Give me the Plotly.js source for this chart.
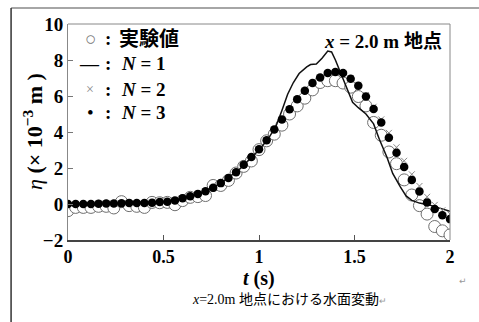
<!DOCTYPE html>
<html><head><meta charset="utf-8">
<script src="https://cdn.plot.ly/plotly-3.0.1.min.js"></script>
<style>html,body{margin:0;padding:0;background:#fff;}#c{width:479px;height:322px;}</style>
</head><body><div id="c"></div>
<script>
// time samples (s)
var tPts = [0,0.04,0.08,0.12,0.16,0.20,0.24,0.28,0.32,0.36,0.40,0.44,0.48,0.52,0.56,0.60,0.64,0.68,0.72,0.76,0.80,0.84,0.88,0.92,0.96,1.00,1.04,1.08,1.12,1.16,1.20,1.24,1.28,1.32,1.36,1.40,1.44,1.48,1.52,1.56,1.60,1.64,1.68,1.72,1.76,1.80,1.84,1.88,1.92,1.96,2.00];
// experimental values (x10^-3 m)
var etaExp = [-0.37,-0.19,-0.19,-0.19,-0.13,-0.13,-0.22,0.13,-0.09,-0.13,-0.19,0.09,0.07,0.09,-0.04,0.19,0.37,0.41,0.47,1.03,1.03,1.31,1.72,2.09,2.39,3.02,3.51,3.88,4.38,5.00,5.45,5.88,6.34,6.75,6.85,6.85,6.72,6.49,5.97,5.45,4.53,3.82,2.89,2.24,1.34,0.50,-0.09,-0.56,-1.25,-1.49,-1.72];
// N = 3
var etaN3 = [0,0,0,0,0.02,0.03,0.03,0.04,0.05,0.05,0.05,0.07,0.11,0.13,0.19,0.32,0.43,0.56,0.71,0.90,1.16,1.44,1.77,2.18,2.61,3.04,3.54,4.14,4.70,5.26,5.82,6.29,6.72,7.03,7.28,7.33,7.28,6.96,6.57,5.97,5.28,4.53,3.68,2.85,2.05,1.34,0.69,0.09,-0.28,-0.62,-0.84];
// N = 2
var etaN2 = [0,0,0,0,0.02,0.03,0.03,0.04,0.05,0.05,0.05,0.07,0.11,0.13,0.19,0.32,0.43,0.56,0.71,0.90,1.16,1.44,1.77,2.18,2.61,3.04,3.54,4.14,4.70,5.26,5.82,6.29,6.72,7.03,7.28,7.33,7.28,6.99,6.62,6.05,5.40,4.70,3.95,3.15,2.40,1.65,1.00,0.40,-0.05,-0.35,-0.56];
// N = 1 (line)
var tN1 = [0,0.2,0.4,0.5,0.6,0.7,0.8,0.9,1.0,1.05,1.09,1.12,1.15,1.18,1.21,1.25,1.27,1.30,1.33,1.36,1.38,1.40,1.42,1.44,1.47,1.49,1.52,1.56,1.60,1.63,1.67,1.70,1.74,1.77,1.80,1.84,1.89,1.94,2.0];
var etaN1 = [0,0.02,0.05,0.11,0.30,0.62,1.15,1.95,3.0,3.65,4.35,5.2,6.1,6.75,7.25,7.62,7.75,7.78,8.1,8.5,8.45,8.0,7.5,7.0,6.2,5.65,5.35,5.0,4.45,3.6,2.6,1.7,0.95,0.45,0.2,0.05,-0.05,-0.2,-0.4];
var xTicks = [0,0.5,1,1.5,2];
var xTickText = ['0','0.5','1','1.5','2'];
var yTicks = [-2,0,2,4,6,8,10];
// legend entries
var legSymbols = ['○','—','×','•'];
var legLabels = ['実験値','<i>N</i> = 1','<i>N</i> = 2','<i>N</i> = 3'];

var serif = 'Liberation Serif';
var traces = [
  {x:tPts, y:etaExp, mode:'markers', type:'scatter',
   marker:{symbol:'circle', size:12, color:'#ffffff', line:{color:'#6e6e6e', width:1}}},
  {x:tN1, y:etaN1, mode:'lines', type:'scatter', line:{color:'#111', width:1.5}},
  {x:tPts, y:etaN2, mode:'markers', type:'scatter',
   marker:{symbol:'x-thin-open', size:6, color:'#888', line:{color:'#888', width:1}}},
  {x:tPts, y:etaN3, mode:'markers', type:'scatter',
   marker:{symbol:'circle', size:8.5, color:'#000'}}
];
var legFont = {family: serif + ', Noto Sans CJK JP', size: 19, color:'#000'};
var annotations = [
  {xref:'paper', yref:'paper', x:-0.0916, y:0.5, xanchor:'center', yanchor:'middle', textangle:-90, showarrow:false,
   font:{family:serif, size:22, color:'#000'}, text:'<i>η</i> <b>(× 10<sup>−3</sup> m )</b>'},
  {xref:'paper', yref:'paper', x:0.5, y:-0.18, xanchor:'center', yanchor:'middle', showarrow:false,
   font:{family:serif, size:20, color:'#000'}, text:'<b><i>t</i> (s)</b>'},
  {xref:'paper', yref:'paper', x:0.985, y:0.92, xanchor:'right', yanchor:'middle', showarrow:false, font:legFont,
   text:'<b><i>x</i> = 2.0 m 地点</b>'},
  {xref:'paper', yref:'paper', x:0.58, y:-0.275, xanchor:'center', yanchor:'middle', showarrow:false,
   font:{family:'Liberation Serif, Noto Sans CJK JP', size:14, color:'#000'},
   text:'<i>x</i>=2.0m 地点における水面変動<span style="color:#999;font-size:9px">↵</span>'},
  {xref:'paper', yref:'paper', x:1.035, y:-0.19, xanchor:'center', yanchor:'middle', showarrow:false,
   font:{family:'DejaVu Sans', size:9, color:'#999'}, text:'↵'}
];
var legY = [0.931, 0.819, 0.699, 0.588];
var symX = [0.060, 0.056, 0.058, 0.059];
var symColor = ['#777', '#000', '#888', '#000'];
var symSize = [19, 19, 14, 19];
for (var i = 0; i < legLabels.length; i++) {
  annotations.push({xref:'paper', yref:'paper', x:symX[i], y:legY[i], xanchor:'center', yanchor:'middle', showarrow:false,
    font:{family:serif, size:symSize[i], color:symColor[i]}, text: i===1 ? '<b>'+legSymbols[i]+'</b>' : legSymbols[i]});
  annotations.push({xref:'paper', yref:'paper', x:0.105, y:legY[i], xanchor:'center', yanchor:'middle', showarrow:false,
    font:legFont, text:'<b>:</b>'});
  annotations.push({xref:'paper', yref:'paper', x: i===0 ? 0.128 : 0.134, y:legY[i], xanchor:'left', yanchor:'middle', showarrow:false,
    font:{family: serif + ', Noto Sans CJK JP', size: i===0 ? 20 : 19, color:'#000'}, text:'<b>'+legLabels[i]+'</b>'});
}
var layout = {
  width:479, height:322, showlegend:false,
  margin:{l:68, r:29, t:24, b:82},
  paper_bgcolor:'#fff', plot_bgcolor:'#fff',
  xaxis:{range:[0,2], tickvals:xTicks, ticktext:xTickText, ticks:'inside', ticklen:5, tickcolor:'#555',
    showline:true, linecolor:'#444', linewidth:1.5, mirror:false, showgrid:false, zeroline:false,
    tickfont:{family:serif, size:18, color:'#000', weight:'bold'}},
  yaxis:{range:[-2,10], tickvals:yTicks, ticks:'inside', ticklen:5, tickcolor:'#777',
    showline:true, linecolor:'#888', linewidth:1, mirror:false, showgrid:false, zeroline:false,
    tickfont:{family:serif, size:19, color:'#000', weight:'bold'}},
  shapes:[
    {type:'line', xref:'paper', yref:'paper', x0:0, x1:1, y0:1, y1:1, line:{color:'#888', width:1}},
    {type:'line', xref:'paper', yref:'paper', x0:1, x1:1, y0:0, y1:1, line:{color:'#888', width:1}},
    {type:'line', xref:'paper', yref:'paper', x0:-0.149, x1:1.08, y0:1.074, y1:1.074, line:{color:'#888', width:1.5}},
    {type:'line', xref:'paper', yref:'paper', x0:-0.149, x1:-0.149, y0:1.074, y1:-0.4, line:{color:'#333', width:1.5}}
  ],
  annotations: annotations
};
Plotly.newPlot('c', traces, layout, {staticPlot:true, displayModeBar:false});
</script></body></html>
